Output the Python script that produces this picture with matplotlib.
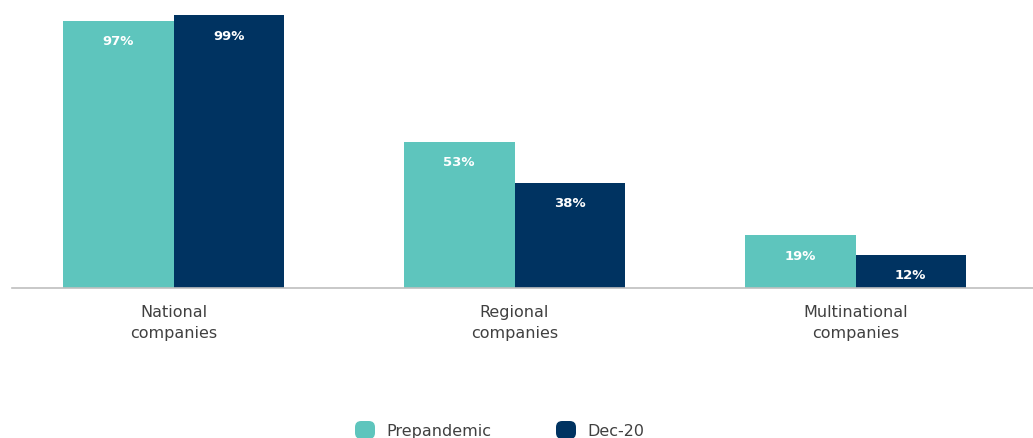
import matplotlib
matplotlib.use("Agg")
import matplotlib.pyplot as plt
from matplotlib.patches import FancyBboxPatch
import numpy as np

categories = ["National\ncompanies", "Regional\ncompanies", "Multinational\ncompanies"]
series_names = ["Prepandemic", "Dec-20"]
prepandemic = [97, 53, 19]
dec20 = [99, 38, 12]
colors = ["#5EC5BD", "#003361"]

plt.rcParams['font.family'] = ['DejaVu Sans']

W, H = 1033, 439
fig = plt.figure(figsize=(W / 100, H / 100), dpi=100)
base_y = 288.5
ax = fig.add_axes([12 / W, (H - base_y) / H, 1 - 12 / W, base_y / H])

x = np.arange(len(categories))
bw = 110.5 / 341
for vals, off, col in [(prepandemic, -bw / 2, colors[0]), (dec20, bw / 2, colors[1])]:
    bars = ax.bar(x + off, vals, width=bw, color=col, linewidth=0, zorder=2)
    for b, v in zip(bars, vals):
        ax.annotate(f"{v}%", (b.get_x() + b.get_width() / 2, b.get_height()),
                    xytext=(0, -20), textcoords="offset pixels",
                    ha="center", va="center", color="white",
                    fontsize=9.5, fontweight="bold")

ax.set_xlim(-161.5 / 341, (W - 173.5) / 341)
ax.set_ylim(0, base_y / 2.75)
for s in ["top", "right", "left"]:
    ax.spines[s].set_visible(False)
ax.spines["bottom"].set_color("#BFBFBF")
ax.spines["bottom"].set_linewidth(1.2)
ax.set_yticks([])
ax.set_xticks(x)
ax.set_xticklabels(categories, fontsize=11.5, color="#404040", linespacing=1.45)
ax.tick_params(axis="x", length=0, pad=12)

# legend
for name, col, px in [(series_names[0], colors[0], 355), (series_names[1], colors[1], 556)]:
    p = FancyBboxPatch((px / W, (H - 440) / H), 20 / W, 18 / H,
                       boxstyle="round,pad=0,rounding_size=0.006",
                       transform=fig.transFigure, facecolor=col, edgecolor="none",
                       mutation_aspect=W / H)
    fig.patches.append(p)
    fig.text((px + 31) / W, (H - 432) / H, name, fontsize=11.5, color="#404040",
             ha="left", va="center")

fig.savefig("out.png", dpi=100)
